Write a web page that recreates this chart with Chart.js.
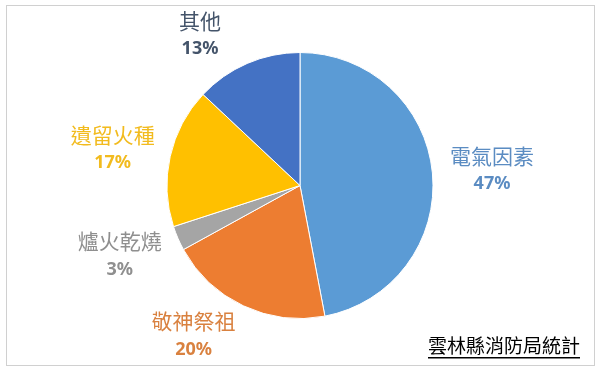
<!DOCTYPE html>
<html>
<head>
<meta charset="utf-8">
<script src="https://cdn.jsdelivr.net/npm/chart.js@4"></script>
<style>
  html, body { margin: 0; padding: 0; background: #fff; }
  #wrap { width: 600px; height: 369px; position: relative; }
</style>
</head>
<body>
<div id="wrap"><canvas id="fire-causes"></canvas></div>
<script>
// 雲林縣 火災原因統計
const causes = ['電氣因素', '敬神祭祖', '爐火乾燒', '遺留火種', '其他'];
const shares = [47, 20, 3, 17, 13];
const sliceColors = ['#5b9bd5', '#ed7d31', '#a5a5a5', '#ffc000', '#4472c4'];
const labelColors = ['#5b8cc2', '#d9813f', '#8f8f8f', '#f2bb1e', '#44546a'];
const sourceNote = '雲林縣消防局統計';

// little nudges so labels sit where excel put them
const labelNudge = [[4, 2], [-26, -21], [-7, -5], [-3, 5], [-25, 23]];

const outsideLabels = {
    id: 'outsideLabels',
    beforeDraw(chart) {
        const c = chart.ctx;
        c.save();
        c.fillStyle = '#fff';
        c.fillRect(0, 0, chart.width, chart.height);
        c.strokeStyle = '#d0d0d0';
        c.lineWidth = 1;
        c.strokeRect(6.5, 5.5, 588, 360);
        c.restore();
    },
    afterDatasetsDraw(chart) {
        const c = chart.ctx;
        const arcs = chart.getDatasetMeta(0).data;
        c.save();
        c.textAlign = 'center';
        c.textBaseline = 'middle';
        arcs.forEach((arc, i) => {
            const mid = (arc.startAngle + arc.endAngle) / 2;
            const dist = arc.outerRadius * 1.42;
            const x = arc.x + Math.cos(mid) * dist + labelNudge[i][0];
            const y = arc.y + Math.sin(mid) * dist + labelNudge[i][1];
            c.fillStyle = labelColors[i];
            c.font = '21px "Noto Sans CJK TC", "Noto Sans", sans-serif';
            c.fillText(causes[i], x, y - 14);
            c.font = 'bold 18px "Noto Sans", "Open Sans", sans-serif';
            c.fillText(shares[i] + '%', x, y + 14);
        });

        // source note, underlined
        c.font = '19px "Noto Sans CJK TC", sans-serif';
        c.fillStyle = '#000';
        c.textAlign = 'right';
        c.fillText(sourceNote, 580, 346);
        const w = c.measureText(sourceNote).width;
        c.fillRect(580 - w, 357, w, 1.5);
        c.restore();
    }
};

const ctx = document.getElementById('fire-causes').getContext('2d');
const myChart = new Chart(ctx, {
    type: 'pie',
    data: {
        labels: causes,
        datasets: [{
            data: shares,
            backgroundColor: sliceColors,
            borderColor: '#ffffff',
            borderWidth: 1
        }]
    },
    options: {
        responsive: true,
        maintainAspectRatio: false,
        animation: false,
        layout: { padding: { top: 52, bottom: 50, left: 0, right: 0 } },
        plugins: {
            legend: { display: false },
            tooltip: { enabled: false }
        }
    },
    plugins: [outsideLabels]
});
</script>
</body>
</html>
